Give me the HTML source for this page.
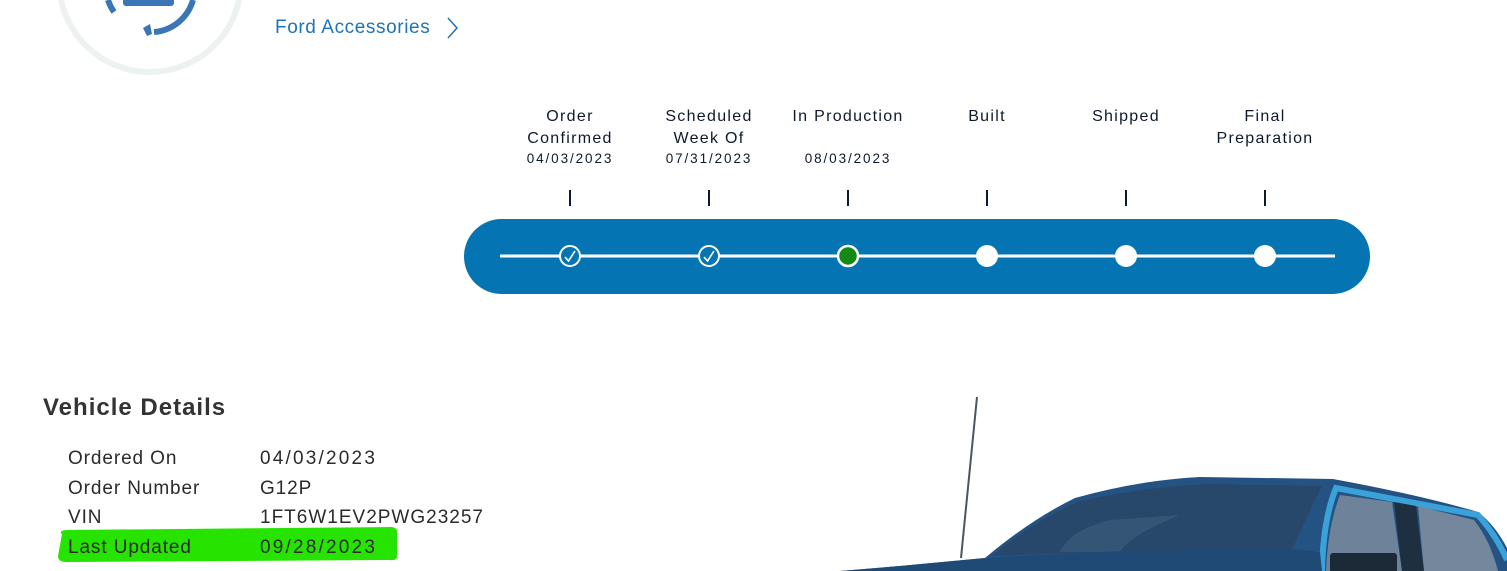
<!DOCTYPE html>
<html><head><meta charset="utf-8"><style>
html,body{margin:0;padding:0;background:#fff;}
body{width:1507px;height:571px;position:relative;overflow:hidden;font-family:"Liberation Sans",sans-serif;}
.a{position:absolute;white-space:nowrap;}
.lbl{position:absolute;width:160px;text-align:center;color:#0e1a2b;font-size:16px;letter-spacing:1.3px;line-height:22px;}
.dt{position:absolute;width:160px;text-align:center;color:#0e1a2b;font-size:13.5px;letter-spacing:1.9px;}
.tick{position:absolute;width:2px;height:16px;background:#0e1a2b;top:190px;}
.row{position:absolute;font-size:19px;color:#2b2b2b;letter-spacing:0.9px;}
</style></head><body>

<svg class="a" style="left:0;top:0" width="1507" height="571" viewBox="0 0 1507 571">
  <circle cx="150" cy="-19" r="91" fill="none" stroke="#eef1f1" stroke-width="6"/>
  <path d="M108 0 A44 44 0 0 0 114 12" fill="none" stroke="#3a76b5" stroke-width="6"/>
  <path d="M154 32 A44 44 0 0 0 193 0" fill="none" stroke="#3a76b5" stroke-width="6"/>
  <path d="M150 24 L143 28 L147 36 L152 34 Z" fill="#3a76b5"/>
  <rect x="123" y="-6" width="51" height="12" rx="3" fill="#3a76b5"/>

  <rect x="464" y="219" width="906" height="75" rx="37.5" fill="#0474b3"/>
  <line x1="500" y1="256" x2="1335" y2="256" stroke="#fff" stroke-width="3"/>
  <circle cx="570" cy="256" r="10" fill="#0474b3" stroke="#fff" stroke-width="2"/>
  <path d="M565 257 L568.5 261 L575 251" fill="none" stroke="#fff" stroke-width="1.6"/>
  <circle cx="709" cy="256" r="10" fill="#0474b3" stroke="#fff" stroke-width="2"/>
  <path d="M704 257 L707.5 261 L714 251" fill="none" stroke="#fff" stroke-width="1.6"/>
  <circle cx="848" cy="256" r="10" fill="#148a14" stroke="#fff" stroke-width="2.5"/>
  <circle cx="987" cy="256" r="11" fill="#fff"/>
  <circle cx="1126" cy="256" r="11" fill="#fff"/>
  <circle cx="1265" cy="256" r="11" fill="#fff"/>

  <path d="M62 534 Q58 531 66 530 L392 527 Q398 528 397 534 L397 556 Q397 561 390 560 L70 562 Q58 563 58 556 Z" fill="#26e400"/>

  <line x1="977" y1="397" x2="961" y2="558" stroke="#4b5660" stroke-width="2"/>
  <path d="M840 571 L900 566 L985 558 Q1030 520 1075 498 Q1140 480 1200 477 L1333 479 Q1420 495 1478 512 Q1495 525 1507 548 L1507 571 Z" fill="#245383"/>
  <path d="M992 556 Q1035 520 1080 501 Q1150 486 1210 484 L1322 486 Q1305 520 1292 550 L1100 552 Z" fill="#27486a"/>
  <path d="M1060 552 Q1070 530 1110 520 L1180 515 Q1130 535 1120 552 Z" fill="#3b5b7a" opacity="0.7"/>
  <path d="M1322 571 Q1323 520 1336 488 L1478 515 Q1496 535 1507 560" fill="none" stroke="#3aa2d8" stroke-width="6"/>
  <path d="M1340 495 L1392 502 L1402 571 L1326 571 Q1328 525 1340 495 Z" fill="#6e8299"/>
  <path d="M1418 506 L1474 520 Q1490 540 1498 571 L1424 571 Z" fill="#74879c"/>
  <path d="M1394 502 L1416 506 L1424 571 L1402 571 Z" fill="#1e2f40"/>
  <rect x="1330" y="553" width="67" height="20" rx="3" fill="#1c2a38"/>
  <path d="M840 571 L900 566 L985 558 L1120 551 L1295 549 L1320 552 L1322 571 Z" fill="#1f4a76"/>
</svg>

<div class="a" style="left:275px;top:17px;font-size:19px;color:#1f73b7;letter-spacing:0.6px;">Ford Accessories</div>
<svg class="a" style="left:446px;top:16px" width="14" height="24"><path d="M2 2 L11 12 L2 22" fill="none" stroke="#1f73b7" stroke-width="1.5"/></svg>

<div class="lbl" style="left:490px;top:106px;">Order<br>Confirmed</div>
<div class="dt" style="left:490px;top:151px;">04/03/2023</div>
<div class="lbl" style="left:629px;top:106px;">Scheduled<br>Week Of</div>
<div class="dt" style="left:629px;top:151px;">07/31/2023</div>
<div class="lbl" style="left:768px;top:106px;">In Production</div>
<div class="dt" style="left:768px;top:151px;">08/03/2023</div>
<div class="lbl" style="left:907px;top:106px;">Built</div>
<div class="lbl" style="left:1046px;top:106px;">Shipped</div>
<div class="lbl" style="left:1185px;top:106px;">Final<br>Preparation</div>

<div class="tick" style="left:569px"></div>
<div class="tick" style="left:708px"></div>
<div class="tick" style="left:847px"></div>
<div class="tick" style="left:986px"></div>
<div class="tick" style="left:1125px"></div>
<div class="tick" style="left:1264px"></div>

<div class="a" style="left:43px;top:394px;font-size:24px;font-weight:bold;color:#333;letter-spacing:1px;">Vehicle Details</div>

<div class="row" style="left:68px;top:448px;">Ordered On</div>
<div class="row" style="left:260px;top:448px;letter-spacing:2.2px;">04/03/2023</div>
<div class="row" style="left:68px;top:478px;">Order Number</div>
<div class="row" style="left:260px;top:478px;">G12P</div>
<div class="row" style="left:68px;top:507px;">VIN</div>
<div class="row" style="left:260px;top:507px;letter-spacing:1px;">1FT6W1EV2PWG23257</div>
<div class="row" style="left:68px;top:537px;">Last Updated</div>
<div class="row" style="left:260px;top:537px;letter-spacing:2.2px;">09/28/2023</div>

</body></html>
